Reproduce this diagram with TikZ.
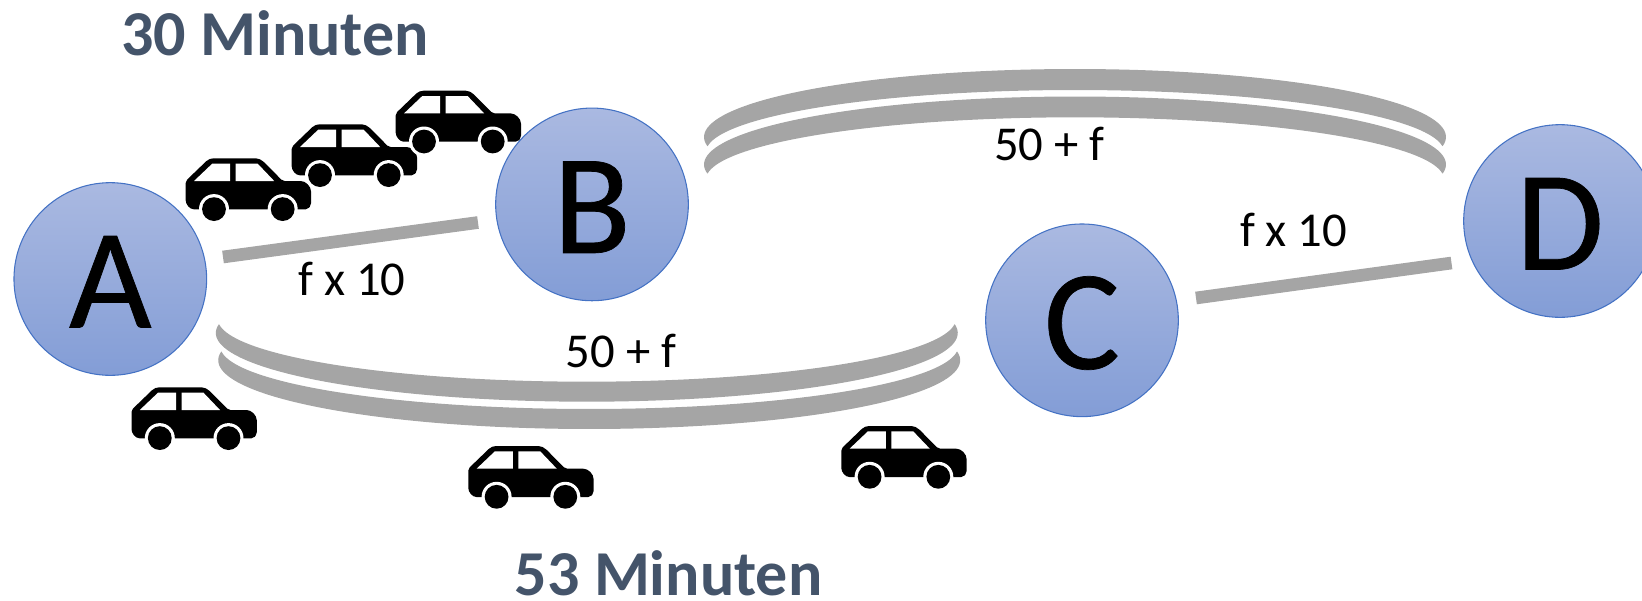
\documentclass[tikz,border=0pt]{standalone}
\usepackage{fontspec}
\setmainfont{Carlito}
\newfontfamily\letterfont[FakeBold=0.5]{Carlito}
\definecolor{road}{HTML}{A5A5A5}
\definecolor{ttl}{HTML}{44546A}
\definecolor{rim}{HTML}{4472C4}
\definecolor{circT}{HTML}{AAB9E1}
\definecolor{circB}{HTML}{839DD6}
\newcommand{\crescent}[8]{% domains of outer and inner edge, cx, outer cy, outer a, outer b, inner a, inner cy
  \fill[roadfill] plot[domain=#1,samples=90,variable=\t] ({#3+#5*cos(\t)},{#4+#6*sin(\t)})
     -- plot[domain=#2,samples=90,variable=\t] ({#3+#7*cos(\t)},{#8+(#6-6)*sin(\t)}) -- cycle;
}
\tikzset{
  x=0.75pt,y=-0.75pt,
  city/.style={circle,draw=rim,line width=0.8pt,top color=circT,bottom color=circB,minimum size=144.5pt,inner sep=0pt,font=\fontsize{107}{107}\letterfont,text=black,text height=72.8pt,text depth=0pt},
  lbl/.style={font=\fontsize{36.5}{38}\selectfont,text=black,inner sep=0pt,anchor=base},
  ttlnode/.style={font=\fontsize{48}{50}\selectfont\bfseries,text=ttl,inner sep=0pt,anchor=base},
  roadline/.style={draw=road,line width=9.5pt},
  roadfill/.style={fill=road,draw=none},
  car/.pic={
    \fill[black,rounded corners=1.5pt] (0,22.7) -- (22,1.5) -- (26,0) -- (72,0) -- (77,2.5) -- (97,22.7) -- (113,22.7)
       .. controls (120,22.7) and (125.3,28) .. (125.3,35) -- (125.3,47) -- (122,51) -- (10,51) .. controls (4,51) and (0,46) .. (0,40) -- cycle;
    \fill[white] (8.3,22.7) -- (26.5,5.4) -- (44.5,5.4) -- (44.5,22.7) -- cycle;
    \fill[white] (50,5.4) -- (72,5.4) -- (88.5,22.7) -- (50,22.7) -- cycle;
    \fill[white] (28.3,50.8) circle (15);
    \fill[white] (97,50.8) circle (15);
    \fill[black] (28.3,50.8) circle (11.9);
    \fill[black] (97,50.8) circle (11.9);
  }
}
\begin{document}
\begin{tikzpicture}
\useasboundingbox (0,0) rectangle (1642,600);
\clip (0,0) rectangle (1642,600);
% cities
\node[city] (A) at (110.3,279) {A};
\node[city] (B) at (592,204.4) {B};
\node[city] (C) at (1082,320.3) {C};
\node[city] (D) at (1560,221) {D};
% straight roads
\coordinate (ab1) at (223,257);
\coordinate (ab2) at (478,222.5);
\coordinate (cd1) at (1196,298);
\coordinate (cd2) at (1451.5,263);
\draw[roadline] (ab1) -- (ab2);
\draw[roadline] (cd1) -- (cd2);
% top crescents: outer ellipse, then inner ellipse back
\crescent{172.4:367.6}{354.45:185.55}{1075}{137}{371}{68}{369}{152}
\crescent{172.4:367.6}{354.45:185.55}{1075}{164.5}{371}{68}{369}{179.3}
% bottom crescents
\crescent{187.3:-7.3}{4.9:175.1}{586.8}{333}{371}{68.7}{369}{319}
\crescent{187.3:-7.3}{4.9:175.1}{589.2}{360.3}{371}{68.7}{369}{346.3}
% cars
\pic at (185.7,158.3) {car};
\pic at (291.7,124.3) {car};
\pic at (395.7,90.7) {car};
\pic at (131.5,387.3) {car};
\pic at (468.3,446) {car};
\pic at (841.3,426) {car};
% labels
\node[lbl] (l1) at (352,295) {f x 10};
\node[lbl] (l2) at (621,367.3) {50 + f};
\node[lbl] (l3) at (1049.5,160.7) {50 + f};
\node[lbl] (l4) at (1293.7,246.7) {f x 10};
\node[ttlnode] (t1) at (275,55) {30 Minuten};
\node[ttlnode] (t2) at (668.5,595) {53 Minuten};
\end{tikzpicture}
\end{document}
